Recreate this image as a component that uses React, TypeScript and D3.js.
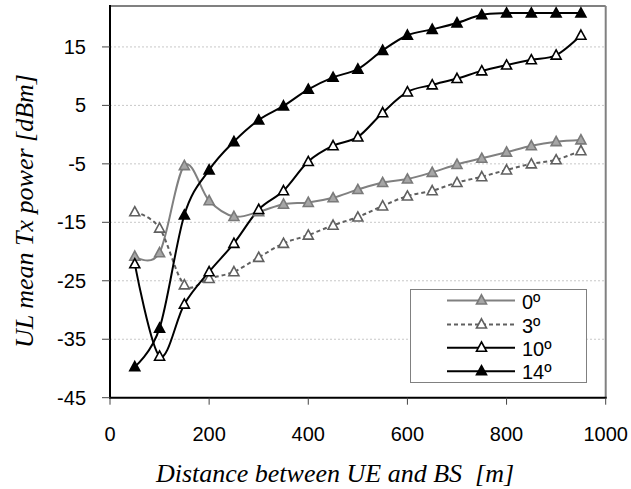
import React from "react";
import * as d3 from "d3";

const distances = [50, 100, 150, 200, 250, 300, 350, 400, 450, 500, 550, 600, 650, 700, 750, 800, 850, 900, 950];
const series0 = [-20.8, -20.2, -5.3, -11.3, -14.0, -13.2, -11.9, -11.6, -10.8, -9.4, -8.2, -7.6, -6.45, -5.1, -4.05, -3.0, -1.9, -1.2, -0.9];
const series3 = [-13.2, -16.0, -25.7, -24.6, -23.45, -21.0, -18.6, -17.2, -15.5, -14.1, -12.2, -10.5, -9.6, -8.2, -7.2, -6.05, -5.0, -4.3, -2.75];
const series10 = [-22.1, -37.9, -29.0, -23.45, -18.6, -12.8, -9.6, -4.6, -1.9, -0.4, 3.75, 7.3, 8.5, 9.6, 10.9, 11.9, 12.8, 13.6, 17.0];
const series14 = [-39.7, -33.1, -13.75, -6.05, -1.2, 2.5, 4.9, 7.75, 9.8, 11.2, 14.4, 17.0, 18.0, 19.1, 20.5, 20.8, 20.8, 20.8, 20.8];
const seriesNames = ["0º", "3º", "10º", "14º"];
const xTicks = [0, 200, 400, 600, 800, 1000];
const yTicks = [-45, -35, -25, -15, -5, 5, 15];

const styles = [
  { stroke: "#808080", fill: "#a6a6a6", mstroke: "#7a7a7a", dash: "" },
  { stroke: "#606060", fill: "#ffffff", mstroke: "#606060", dash: "4,3" },
  { stroke: "#000000", fill: "#ffffff", mstroke: "#000000", dash: "" },
  { stroke: "#000000", fill: "#000000", mstroke: "#000000", dash: "" },
];

const L = 110, R = 605.7, T = 6, B = 397.7;

function tri(cx: number, cy: number) {
  return `M${cx},${cy - 5.2}L${cx + 5},${cy + 4}L${cx - 5},${cy + 4}Z`;
}

export default function App() {
  const x = d3.scaleLinear().domain([0, 1000]).range([L, R]);
  const y = d3.scaleLinear().domain([-45, 22]).range([B, T]);
  const all = [series0, series3, series10, series14];
  const line = d3
    .line<number>()
    .x((_, i) => x(distances[i]))
    .y((v) => y(v))
    .curve(d3.curveCatmullRom.alpha(0));

  const legendRows = [300.5, 324.5, 347.7, 371.3];

  return (
    <svg
      width={631}
      height={489}
      style={{ position: "absolute", left: 0, top: 0, background: "#fff" }}
    >
      <rect x={0} y={0} width={631} height={489} fill="#fff" />
      {/* gridlines */}
      {yTicks.filter((t) => t !== -45).map((t) => (
        <line key={"g" + t} x1={L} x2={R} y1={y(t)} y2={y(t)} stroke="#c8c8c8" strokeWidth={1} strokeDasharray="2,2" />
      ))}
      {/* frame */}
      <line x1={L} x2={R} y1={T} y2={T} stroke="#808080" strokeWidth={2} />
      <line x1={R} x2={R} y1={T} y2={B} stroke="#808080" strokeWidth={2} />
      <line x1={L} x2={L} y1={T - 1} y2={B + 1} stroke="#000" strokeWidth={2} />
      <line x1={L - 1} x2={R + 1} y1={B} y2={B} stroke="#000" strokeWidth={2} />
      {/* y ticks */}
      {yTicks.map((t) => (
        <g key={"y" + t}>
          <line x1={L - 8} x2={L} y1={y(t)} y2={y(t)} stroke="#444" strokeWidth={1} />
          <text x={86} y={y(t) + 7} textAnchor="end" fontFamily="Liberation Sans, Arial, sans-serif" fontSize={20} fill="#000">
            {t}
          </text>
        </g>
      ))}
      {/* x ticks */}
      {xTicks.map((t) => (
        <g key={"x" + t}>
          <line x1={x(t)} x2={x(t)} y1={B} y2={B + 7} stroke="#444" strokeWidth={1} />
          <text x={x(t)} y={441} textAnchor="middle" fontFamily="Liberation Sans, Arial, sans-serif" fontSize={20} fill="#000">
            {t}
          </text>
        </g>
      ))}
      {/* series lines */}
      {all.map((s, k) => (
        <path key={"l" + k} d={line(s) || ""} fill="none" stroke={styles[k].stroke} strokeWidth={2} strokeDasharray={styles[k].dash || undefined} />
      ))}
      {/* markers */}
      {all.map((s, k) => (
        <g key={"m" + k}>
          {s.map((v, i) => (
            <path key={i} d={tri(x(distances[i]), y(v))} fill={styles[k].fill} stroke={styles[k].mstroke} strokeWidth={1.6} />
          ))}
        </g>
      ))}
      {/* legend */}
      <rect x={410.5} y={289.5} width={176} height={93} fill="#fff" stroke="#808080" strokeWidth={1} />
      {seriesNames.map((n, k) => (
        <g key={"lg" + k}>
          <line x1={447} x2={515} y1={legendRows[k]} y2={legendRows[k]} stroke={styles[k].stroke} strokeWidth={2} strokeDasharray={styles[k].dash || undefined} />
          <path d={tri(481.5, legendRows[k] - 0.5)} fill={styles[k].fill} stroke={styles[k].mstroke} strokeWidth={1.6} />
          <text x={522} y={legendRows[k] + 8} fontFamily="Liberation Sans, Arial, sans-serif" fontSize={20} fill="#000">
            {n}
          </text>
        </g>
      ))}
      {/* axis titles */}
      <text x={335} y={481.5} textAnchor="middle" fontFamily="Liberation Serif, Times New Roman, serif" fontStyle="italic" fontSize={26} fill="#000">
        Distance between UE and BS{"\u00a0 "}[m]
      </text>
      <text
        transform={`translate(33,211) rotate(-90)`}
        textAnchor="middle"
        fontFamily="Liberation Serif, Times New Roman, serif"
        fontStyle="italic"
        fontSize={26}
        fill="#000"
      >
        UL mean Tx power [dBm]
      </text>
    </svg>
  );
}
